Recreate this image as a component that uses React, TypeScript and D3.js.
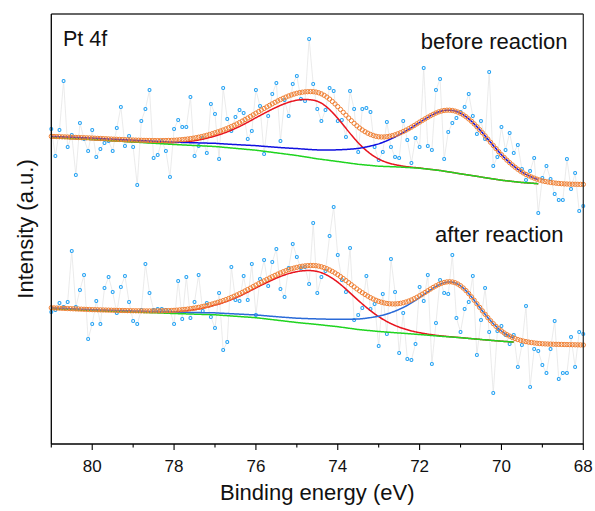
import React from "react";
import * as d3 from "d3";

// ---- axis / ticks ----
const majorTicks = [80, 78, 76, 74, 72, 70, 68];
const minorTicks = [81, 79, 77, 75, 73, 71, 69];
const xDomain = [81, 68];

// raw energies: 81.0 -> 68.0 eV, 0.1 eV step (131 points)
const rawEnergies = d3.range(131).map((i) => +(81 - i * 0.1).toFixed(2));
// fit envelope energies (markers)
const fitEnergies = d3.range(196).map((i) => +(81 - i / 15).toFixed(4));

// ---- raw spectra (arbitrary units) ----
const topRaw = [
  315, 288, 314, 363, 297, 309, 269, 321, 305, 293,
  314, 287, 295, 301, 303, 293, 316, 337, 298, 308,
  297, 259, 323, 335, 354, 286, 289, 303, 293, 267,
  315, 324, 317, 317, 347, 288, 298, 306, 291, 340,
  330, 285, 356, 325, 313, 327, 334, 331, 305, 313,
  354, 338, 290, 328, 350, 361, 303, 344, 328, 360,
  368, 345, 343, 405, 360, 335, 323, 334, 356, 353,
  323, 324, 307, 353, 335, 292, 335, 336, 332, 297,
  284, 292, 322, 297, 287, 286, 323, 304, 281, 306,
  297, 376, 298, 294, 354, 365, 285, 312, 321, 326,
  332, 337, 350, 328, 310, 323, 305, 372, 278, 287,
  317, 294, 311, 291, 299, 275, 264, 273, 286, 231,
  266, 278, 265, 250, 244, 244, 285, 255, 271, 233, 238,
];
const bottomRaw = [
  132, 134, 141, 137, 142, 193, 137, 154, 169, 105,
  120, 143, 120, 156, 167, 152, 131, 157, 168, 142,
  123, 120, 134, 180, 151, 134, 135, 135, 134, 133,
  120, 163, 125, 167, 126, 142, 169, 133, 141, 127,
  116, 151, 94, 102, 177, 144, 143, 168, 144, 180,
  129, 165, 184, 158, 182, 195, 155, 147, 176, 200,
  187, 176, 177, 160, 221, 151, 167, 173, 208, 237,
  189, 164, 152, 196, 124, 129, 136, 168, 135, 140,
  98, 150, 110, 185, 152, 91, 131, 85, 84, 100,
  157, 143, 169, 80, 121, 164, 151, 150, 189, 126,
  112, 135, 142, 168, 89, 124, 156, 112, 51, 113,
  118, 109, 100, 109, 77, 99, 138, 57, 95, 93,
  79, 71, 95, 123, 65, 71, 71, 107, 77, 112, 110,
];

// ---- background knots (ascending energy) ----
const bgEnergies = [68, 68.5, 69, 69.5, 70, 70.5, 71, 71.5, 72, 72.5, 73, 73.5, 74, 74.5, 75, 76, 77, 78, 79, 80, 81];
const topBackground = [259.5, 259.5, 260, 261.5, 263.8, 267, 270.2, 273.5, 275.8, 277, 277.8, 279.7, 282.5, 285.2, 288.5, 293.8, 297.5, 299.5, 302, 304.5, 306.5];
const bottomBackground = [99, 99.5, 100, 101.3, 102.8, 104.5, 106.3, 107.8, 109.5, 111, 112.5, 114.5, 117.3, 119.5, 121.5, 126.3, 129.2, 130.5, 132, 133.5, 135.5];

// ---- fitted components: [Pt 4f5/2, Pt 4f7/2] ----
const topPeakCenter = [74.6, 71.2];
const topPeakHeight = [58, 62];
const topPeakWidthLow = [0.78, 0.9];
const topPeakWidthHigh = [1.3, 1.35];
const bottomPeakCenter = [74.6, 71.23];
const bottomPeakHeight = [53.3, 55];
const bottomPeakWidthLow = [1.0, 0.67];
const bottomPeakWidthHigh = [1.3, 1.1];
const peakTailLorentz = [false, true];
const fitRangeEnd = [69.1, 69.7];

const labels = ["before reaction", "after reaction"];
const blueColors = ["#1010e0", "#2a6ad8"];

const W = 595;
const H = 511;
const left = 51.3;
const right = 583.3;
const top = 14;
const bottom = 444;

const FONT = "'Liberation Sans', Arial, Helvetica, sans-serif";

function peakValue(E: number, c: number, h: number, wl: number, wh: number, lor: boolean) {
  const d = E - c;
  if (d <= 0) return h * Math.exp(-(d * d) / (2 * wl * wl));
  if (lor) return h / (1 + (d / wh) * (d / wh));
  return h * Math.exp(-(d * d) / (2 * wh * wh));
}

export default function App() {
  const x = d3.scaleLinear().domain(xDomain).range([left, right]);
  const y = d3.scaleLinear().domain([0, 430]).range([bottom, top]);

  const spectra = [
    {
      raw: topRaw,
      bg: d3.scaleLinear().domain(bgEnergies).range(topBackground),
      c: topPeakCenter, h: topPeakHeight, wl: topPeakWidthLow, wh: topPeakWidthHigh,
      end: fitRangeEnd[0], blue: blueColors[0],
    },
    {
      raw: bottomRaw,
      bg: d3.scaleLinear().domain(bgEnergies).range(bottomBackground),
      c: bottomPeakCenter, h: bottomPeakHeight, wl: bottomPeakWidthLow, wh: bottomPeakWidthHigh,
      end: fitRangeEnd[1], blue: blueColors[1],
    },
  ];

  const lineGen = d3
    .line<[number, number]>()
    .x((d) => x(d[0]))
    .y((d) => y(d[1]));

  return (
    <svg width={W} height={H} style={{ position: "absolute", left: 0, top: 0, background: "#fff" }} fontFamily={FONT}>
      <rect x={0} y={0} width={W} height={H} fill="#fff" />
      {spectra.map((s, k) => {
        const comp = (E: number, j: number) =>
          peakValue(E, s.c[j], s.h[j], s.wl[j], s.wh[j], peakTailLorentz[j]);
        const lineE = d3.range(81, s.end - 1e-6, -0.02);
        const green = lineE.map((E) => [E, s.bg(E)] as [number, number]);
        const blue = lineE.map((E) => [E, s.bg(E) + comp(E, 1)] as [number, number]);
        const red = lineE.map((E) => [E, s.bg(E) + comp(E, 0)] as [number, number]);
        const env = fitEnergies.map((E) => [E, s.bg(E) + comp(E, 0) + comp(E, 1)] as [number, number]);
        const raw = rawEnergies.map((E, i) => [E, s.raw[i]] as [number, number]);
        return (
          <g key={k}>
            <path d={lineGen(raw) || ""} fill="none" stroke="#e6e6e6" strokeWidth={0.8} />
            {raw.map((d, i) => (
              <circle key={i} cx={x(d[0])} cy={y(d[1])} r={1.5} fill="#fff" stroke="#1e9ff2" strokeWidth={1.05} />
            ))}
            <path d={lineGen(red) || ""} fill="none" stroke="#e8141e" strokeWidth={1.5} />
            <path d={lineGen(green) || ""} fill="none" stroke="#1fd41f" strokeWidth={1.5} />
            <path d={lineGen(blue) || ""} fill="none" stroke={s.blue} strokeWidth={1.5} />
            {env.map((d, i) => (
              <circle key={i} cx={x(d[0])} cy={y(d[1])} r={2.15} fill="none" stroke="#f07f32" strokeWidth={1} />
            ))}
          </g>
        );
      })}

      {/* frame */}
      <line x1={left} y1={top} x2={right} y2={top} stroke="#333" strokeWidth={1.3} />
      <line x1={right} y1={top} x2={right} y2={bottom} stroke="#333" strokeWidth={1.3} />
      <line x1={left} y1={top} x2={left} y2={bottom} stroke="#000" strokeWidth={1.3} />
      <line x1={left} y1={bottom} x2={right} y2={bottom} stroke="#000" strokeWidth={1.3} />

      {/* ticks */}
      {majorTicks.map((t) => (
        <g key={"M" + t}>
          <line x1={x(t)} x2={x(t)} y1={bottom} y2={bottom + 6} stroke="#000" strokeWidth={1.1} />
          <text x={x(t)} y={472} textAnchor="middle" fontSize={17} fill="#111">
            {t}
          </text>
        </g>
      ))}
      {minorTicks.map((t) => (
        <line key={"m" + t} x1={x(t)} x2={x(t)} y1={bottom} y2={bottom + 3.5} stroke="#000" strokeWidth={1.1} />
      ))}

      {/* labels */}
      <text x={63} y={46} fontSize={21.5} fill="#111">Pt 4f</text>
      <text x={567.5} y={49} fontSize={22} textAnchor="end" fill="#111">{labels[0]}</text>
      <text x={563.5} y={242} fontSize={22} textAnchor="end" fill="#111">{labels[1]}</text>

      <text x={(left + right) / 2} y={500} fontSize={22} textAnchor="middle" fill="#111">
        Binding energy (eV)
      </text>
      <text transform={`translate(33,${(top + bottom) / 2}) rotate(-90)`} fontSize={22} textAnchor="middle" fill="#111">
        Intensity (a.u.)
      </text>
    </svg>
  );
}
